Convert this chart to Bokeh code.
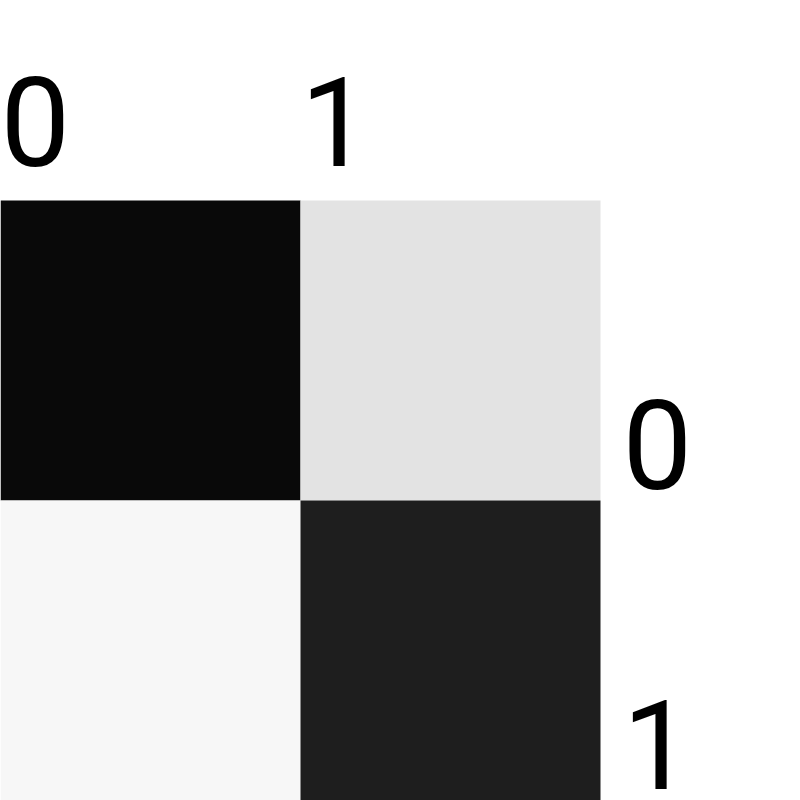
from bokeh.plotting import figure
from bokeh.models import Range1d, LinearColorMapper, ColumnDataSource
from bokeh.core.properties import value
from bokeh.palettes import Greys256
from bokeh.embed import file_html
from bokeh.resources import INLINE

# data
col_labels = ["0", "1"]
row_labels = ["0", "1"]
values = [[0.961, 0.113],
          [0.035, 0.880]]

n_rows = len(row_labels)
n_cols = len(col_labels)

xs, ys, vs = [], [], []
for r in range(n_rows):
    for c in range(n_cols):
        xs.append(c + 0.5)
        ys.append(r + 0.5)
        vs.append(values[r][c])
cells = ColumnDataSource(dict(x=xs, y=ys, v=vs))

mapper = LinearColorMapper(palette=list(reversed(Greys256)), low=0, high=1)

# heatmap occupies 600x600 px of an 800x800 frame; extra space above and right for labels
cell_px = 300.0
x_end = 800.0 / cell_px
y_start = n_rows - 800.0 / cell_px

p = figure(width=800, height=800, output_backend="svg", toolbar_location=None,
           x_range=Range1d(0, x_end), y_range=Range1d(n_rows, y_start),
           min_border=0)
p.xaxis.visible = False
p.yaxis.visible = False
p.grid.visible = False
p.outline_line_color = None
p.background_fill_color = "white"
p.border_fill_color = "white"

p.rect(x="x", y="y", width=1, height=1, source=cells,
       fill_color={"field": "v", "transform": mapper}, line_color=None)

top_src = ColumnDataSource(dict(x=list(range(n_cols)), y=[0] * n_cols, t=col_labels))
right_src = ColumnDataSource(dict(x=[n_cols] * n_rows, y=[r + 1 for r in range(n_rows)], t=row_labels))

common = dict(text_font=value("Roboto"), text_font_size="124px",
              text_color="black", text_baseline="alphabetic", text_align="left")
p.text(x="x", y="y", text="t", source=top_src, x_offset=0, y_offset=-79, **common)
p.text(x="x", y="y", text="t", source=right_src, x_offset=22, y_offset=-56, **common)

open("out.html", "w").write(file_html(p, INLINE))
